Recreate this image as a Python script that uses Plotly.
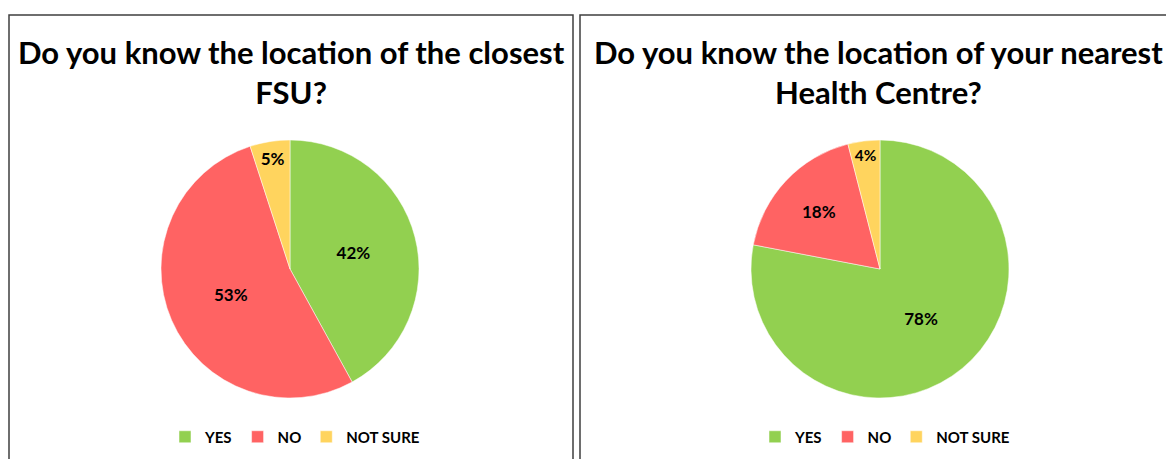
import plotly.graph_objects as go

W, H = 1166, 459

labels = ["YES", "NO", "NOT SURE"]
fsu_values = [42, 53, 5]
health_values = [78, 18, 4]
titles = ["Do you know the location of the closest<br>FSU?",
          "Do you know the location of your nearest<br>Health Centre?"]
colors = ["#92D050", "#FF6363", "#FFD45E"]

def px(x):
    return x / W

def py(y):
    return 1 - y / H

fig = go.Figure()

def add_pie(pie_labels, values, cx, cy, r, legend_name):
    fig.add_trace(go.Pie(
        labels=pie_labels, values=values, sort=False, direction="clockwise", rotation=0,
        marker=dict(colors=colors, line=dict(color="#ffffff", width=0.5)),
        texttemplate="%{value}%", textposition="inside",
        insidetextorientation="horizontal",
        textfont=dict(family="Lato", size=17, color="#000000", weight="bold"),
        domain=dict(x=[px(cx - r), px(cx + r)], y=[py(cy + r), py(cy - r)]),
        legend=legend_name, showlegend=True, hoverinfo="label+percent",
    ))

# second pie gets its own legend; zero-width suffix keeps its entries separate
add_pie(labels, fsu_values, 290, 269, 129, "legend")
add_pie([l + "\u200b" for l in labels], health_values, 880, 269, 129, "legend2")

legend_common = dict(orientation="h", xanchor="center", yanchor="middle",
                     font=dict(family="Lato", size=15, color="#000000", weight="bold"),
                     bgcolor="rgba(0,0,0,0)", itemwidth=30, tracegroupgap=0,
                     itemclick=False, itemdoubleclick=False)

border = dict(color="#3f3f3f", width=1.5)
shapes = [
    dict(type="rect", xref="paper", yref="paper", x0=px(9), x1=px(573), y0=py(475), y1=py(15),
         line=border, fillcolor="rgba(0,0,0,0)"),
    dict(type="rect", xref="paper", yref="paper", x0=px(580), x1=px(1185), y0=py(475), y1=py(15),
         line=border, fillcolor="rgba(0,0,0,0)"),
]

title_font = dict(family="Lato", size=31, color="#000000", weight="bold")
annotations = [
    dict(text=titles[0], x=px(291), y=py(72), xref="paper", yref="paper", showarrow=False,
         xanchor="center", yanchor="middle", font=title_font),
    dict(text=titles[1], x=px(878), y=py(72), xref="paper", yref="paper", showarrow=False,
         xanchor="center", yanchor="middle", font=title_font),
]

fig.update_layout(
    width=W, height=H, margin=dict(l=0, r=0, t=0, b=0),
    paper_bgcolor="#ffffff", plot_bgcolor="#ffffff",
    legend=dict(x=px(295), y=py(437), **legend_common),
    legend2=dict(x=px(885), y=py(437), **legend_common),
    shapes=shapes, annotations=annotations,
)

fig.write_html("out.html")
